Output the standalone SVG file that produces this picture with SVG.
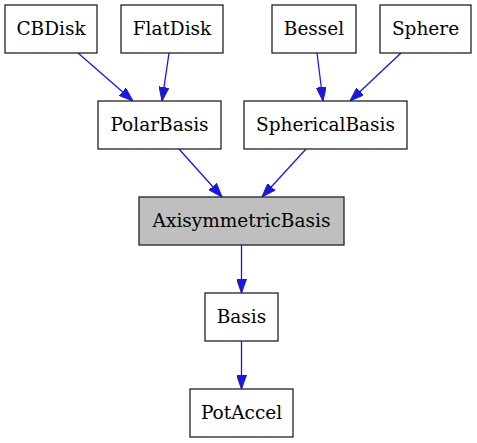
<svg xmlns="http://www.w3.org/2000/svg" width="477" height="443" viewBox="0 0 477 443">
<defs>
<style>
.n rect{fill:#ffffff;stroke:#222222;stroke-width:1.3}
.n.g rect{fill:#bfbfbf}
.n text{font-family:"DejaVu Serif","Liberation Serif",serif;font-size:18.5px;fill:#000;text-anchor:middle}
.e line{stroke:#1a1ad6;stroke-width:1.3;fill:none;marker-end:url(#ah)}
</style>
<marker id="ah" viewBox="0 0 14 10" refX="14" refY="5" markerWidth="14" markerHeight="10" markerUnits="userSpaceOnUse" orient="auto">
<path d="M0,0 L14,5 L0,10 z" fill="#1a1ad6" stroke="#1a1ad6" stroke-width="1"/>
</marker>
</defs>
<rect width="477" height="443" fill="#ffffff"/>
<g id="edges" class="e">
<line x1="78" y1="53" x2="133" y2="101"/>
<line x1="169" y1="53" x2="162" y2="101"/>
<line x1="317" y1="53" x2="323" y2="101"/>
<line x1="401" y1="53" x2="350" y2="101"/>
<line x1="179" y1="149" x2="222" y2="197"/>
<line x1="306" y1="149" x2="262" y2="197"/>
<line x1="241.5" y1="245" x2="241.5" y2="293"/>
<line x1="241.5" y1="341" x2="241.5" y2="389"/>
</g>
<g id="CBDisk" class="n"><rect x="5" y="5" width="92" height="48"/><text x="51" y="35">CBDisk</text></g>
<g id="FlatDisk" class="n"><rect x="121" y="5" width="102" height="48"/><text x="172" y="35">FlatDisk</text></g>
<g id="Bessel" class="n"><rect x="272" y="5" width="84" height="48"/><text x="314" y="35">Bessel</text></g>
<g id="Sphere" class="n"><rect x="380" y="5" width="91" height="48"/><text x="425.5" y="35">Sphere</text></g>
<g id="PolarBasis" class="n"><rect x="98" y="101" width="123" height="48"/><text x="159.5" y="131">PolarBasis</text></g>
<g id="SphericalBasis" class="n"><rect x="244" y="101" width="163" height="48"/><text x="325.5" y="131">SphericalBasis</text></g>
<g id="AxisymmetricBasis" class="n g"><rect x="139" y="197" width="205" height="48"/><text x="241.5" y="227">AxisymmetricBasis</text></g>
<g id="Basis" class="n"><rect x="205" y="293" width="73" height="48"/><text x="241.5" y="323">Basis</text></g>
<g id="PotAccel" class="n"><rect x="190" y="389" width="103" height="48"/><text x="241.5" y="419">PotAccel</text></g>
</svg>
